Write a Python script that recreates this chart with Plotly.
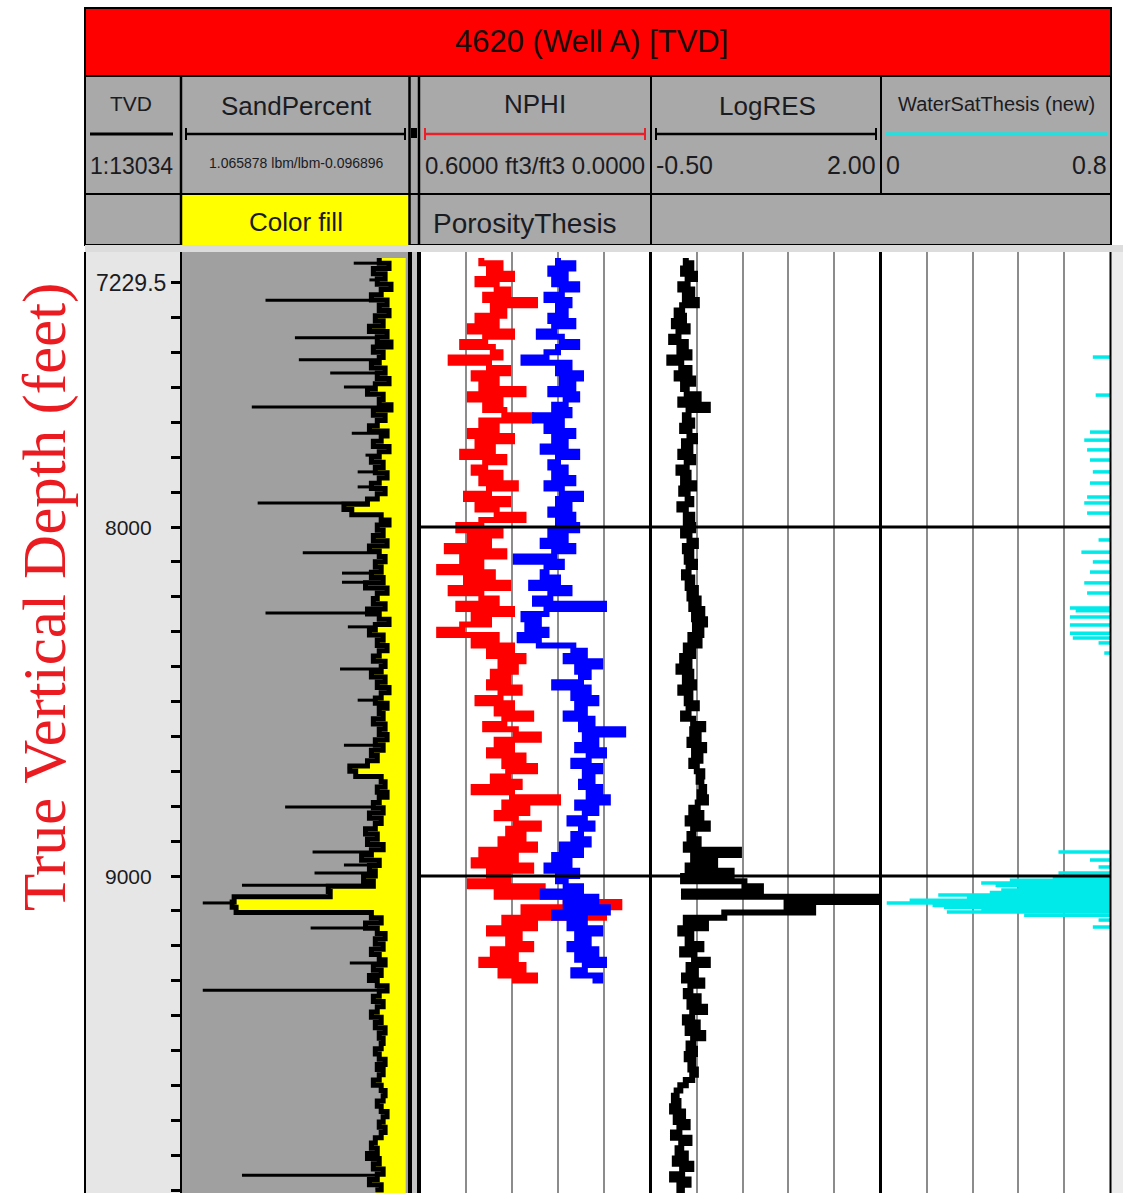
import plotly.graph_objects as go

W, H = 1123, 1193
SANS = "Liberation Sans, Arial, sans-serif"
SERIF = "Liberation Serif, Times New Roman, serif"

# ---------------- well data (15 ft block sampling from the top depth) ----------------
TOP_DEPTH = 7229.5
STEP = 15.0
DEPTH_RANGE = [9908, 7212]          # bottom, top of the depth window

SAND_PERCENT = [
    0.06, 0.01, 0.09, 0.03, 0.07, 0.00, 0.05, 0.10, 0.02, 0.06,
    0.01, 0.08, 0.04, 0.11, 0.02, 0.07, 0.00, 0.09, 0.04, 0.06,
    0.10, 0.03, 0.07, 0.01, 0.08, 0.12, 0.04, 0.06, 0.00, 0.09,
    0.03, 0.07, 0.11, 0.02, 0.05, 0.09, 0.01, 0.06, 0.10, 0.04,
    0.08, 0.02, 0.06, 0.10, 0.03, 0.07, 0.12, 0.24, 0.20, 0.05,
    0.01, 0.07, 0.04, 0.09, 0.02, 0.11, 0.06, 0.03, 0.08, 0.05,
    0.10, 0.04, 0.13, 0.02, 0.07, 0.09, 0.03, 0.12, 0.06, 0.01,
    0.08, 0.11, 0.04, 0.07, 0.02, 0.06, 0.09, 0.03, 0.05, 0.10,
    0.03, 0.07, 0.01, 0.05, 0.08, 0.02, 0.06, 0.04, 0.09, 0.03,
    0.06, 0.02, 0.08, 0.04, 0.10, 0.07, 0.12, 0.21, 0.18, 0.05,
    0.03, 0.07, 0.02, 0.06, 0.09, 0.04, 0.11, 0.05, 0.08, 0.13,
    0.07, 0.12, 0.04, 0.10, 0.15, 0.06, 0.11, 0.08, 0.14, 0.09,
    0.32, 0.31, 0.80, 0.81, 0.79, 0.10, 0.05, 0.13, 0.07, 0.03,
    0.08, 0.04, 0.10, 0.06, 0.03, 0.09, 0.05, 0.11, 0.07, 0.02,
    0.06, 0.09, 0.04, 0.07, 0.10, 0.05, 0.08, 0.03, 0.06, 0.04,
    0.05, 0.08, 0.06, 0.03, 0.07, 0.04, 0.06, 0.09, 0.05, 0.03,
    0.04, 0.07, 0.05, 0.02, 0.04, 0.06, 0.03, 0.05, 0.08, 0.10,
    0.07, 0.12, 0.06, 0.09, 0.04, 0.07, 0.11, 0.05, 0.08,
]

SAND_SPIKE_DEPTH = [7244, 7292, 7350, 7458, 7521, 7559, 7599, 7656, 7731, 7794,
                    7842, 7885, 7931, 8074, 8132, 8158, 8246, 8286, 8407, 8496,
                    8625, 8690, 8802, 8868, 8931, 8968, 8991, 9026, 9077, 9149,
                    9249, 9327, 9857]
SAND_SPIKE_VALUE = [0.19, 0.11, 0.64, 0.49, 0.47, 0.31, 0.24, 0.71, 0.20, 0.13,
                    0.17, 0.17, 0.68, 0.45, 0.25, 0.25, 0.64, 0.22, 0.26, 0.17,
                    0.24, 0.22, 0.54, 0.14, 0.40, 0.24, 0.39, 0.76, 0.96, 0.41,
                    0.21, 0.96, 0.76]

NPHI = [
    0.44, 0.39, 0.42, 0.36, 0.45, 0.40, 0.37, 0.43, 0.30, 0.41,
    0.38, 0.45, 0.40, 0.47, 0.36, 0.43, 0.49, 0.41, 0.39, 0.52,
    0.42, 0.37, 0.46, 0.40, 0.44, 0.33, 0.47, 0.39, 0.43, 0.38,
    0.31, 0.44, 0.40, 0.47, 0.36, 0.45, 0.41, 0.49, 0.38, 0.43,
    0.46, 0.39, 0.44, 0.35, 0.42, 0.48, 0.37, 0.45, 0.40, 0.33,
    0.44, 0.50, 0.39, 0.47, 0.42, 0.53, 0.38, 0.49, 0.44, 0.55,
    0.41, 0.48, 0.37, 0.52, 0.44, 0.40, 0.50, 0.36, 0.46, 0.42,
    0.49, 0.55, 0.40, 0.46, 0.36, 0.42, 0.33, 0.39, 0.35, 0.41,
    0.37, 0.42, 0.34, 0.39, 0.45, 0.36, 0.40, 0.31, 0.38, 0.43,
    0.35, 0.29, 0.40, 0.36, 0.42, 0.33, 0.38, 0.30, 0.37, 0.41,
    0.34, 0.46, 0.36, 0.24, 0.38, 0.32, 0.40, 0.35, 0.29, 0.37,
    0.33, 0.39, 0.30, 0.44, 0.35, 0.46, 0.31, 0.42, 0.37, 0.47,
    0.28, 0.40, 0.22, 0.08, 0.33, 0.12, 0.38, 0.30, 0.42, 0.34,
    0.37, 0.31, 0.41, 0.35, 0.44, 0.33, 0.39, 0.30, 0.36,
]

POROSITY_THESIS = [
    0.24, 0.20, 0.26, 0.22, 0.25, 0.19, 0.23, 0.27, 0.21, 0.24,
    0.22, 0.26, 0.20, 0.25, 0.29, 0.23, 0.19, 0.24, 0.27, 0.33,
    0.21, 0.24, 0.18, 0.23, 0.20, 0.26, 0.19, 0.22, 0.25, 0.21,
    0.30, 0.23, 0.27, 0.20, 0.25, 0.22, 0.28, 0.19, 0.24, 0.26,
    0.22, 0.25, 0.20, 0.27, 0.23, 0.18, 0.24, 0.21, 0.26, 0.20,
    0.24, 0.19, 0.26, 0.22, 0.28, 0.20, 0.25, 0.35, 0.23, 0.27,
    0.28, 0.24, 0.31, 0.21, 0.26, 0.30, 0.12, 0.27, 0.33, 0.29,
    0.32, 0.27, 0.34, 0.29, 0.20, 0.17, 0.22, 0.13, 0.19, 0.16,
    0.18, 0.25, 0.16, 0.20, 0.14, 0.19, 0.17, 0.22, 0.15, 0.18,
    0.07, 0.17, 0.14, 0.19, 0.12, 0.16, 0.20, 0.13, 0.17, 0.15,
    0.18, 0.13, 0.16, 0.11, 0.19, 0.14, 0.17, 0.21, 0.15, 0.18,
    0.20, 0.16, 0.23, 0.18, 0.25, 0.21, 0.27, 0.19, 0.24, 0.22,
    0.18, 0.28, 0.14, 0.22, 0.11, 0.25, 0.17, 0.21, 0.13, 0.19,
    0.16, 0.21, 0.14, 0.19, 0.12, 0.17, 0.20, 0.13, 0.15,
]

LOG_RES = [
    -0.12, -0.06, -0.15, -0.02, -0.10, -0.18, -0.05, -0.13, 0.00, -0.16,
    -0.22, -0.14, -0.25, -0.10, -0.20, -0.28, -0.12, -0.19, -0.08, -0.30,
    -0.17, -0.08, -0.22, -0.04, -0.15, -0.11, 0.02, -0.18, 0.12, -0.09,
    -0.13, -0.05, -0.16, -0.08, -0.02, -0.14, -0.07, -0.18, -0.04, -0.11,
    -0.20, -0.09, -0.15, -0.03, -0.17, -0.10, -0.06, -0.19, -0.12, -0.05,
    -0.12, -0.04, -0.15, -0.08, -0.01, -0.13, -0.06, -0.11, -0.02, -0.09,
    -0.14, -0.05, -0.10, -0.01, -0.08, 0.02, -0.06, 0.06, -0.03, 0.09,
    -0.02, 0.05, -0.07, 0.03, -0.12, -0.04, -0.16, -0.08, -0.20, -0.06,
    -0.13, -0.03, -0.18, -0.07, -0.11, 0.00, -0.09, -0.15, -0.04, 0.07,
    -0.05, 0.02, -0.08, 0.08, -0.03, 0.04, -0.06, 0.00, 0.06, 0.02,
    0.05, 0.08, 0.03, 0.10, 0.01, -0.06, 0.05, -0.10, 0.12, -0.04,
    -0.08, 0.02, -0.12, 0.46, -0.04, 0.20, -0.10, 0.38, -0.15, 0.52,
    0.70, -0.14, 2.00, 0.98, 1.27, 0.30, -0.12, 0.10, -0.18, -0.06,
    -0.10, 0.05, -0.16, -0.03, 0.12, -0.09, -0.01, -0.14, 0.06, -0.07,
    -0.12, 0.02, -0.08, 0.09, -0.05, -0.13, 0.01, -0.10, 0.07, -0.04,
    -0.09, -0.02, -0.11, -0.04, -0.07, -0.01, -0.05, -0.12, -0.18, -0.22,
    -0.25, -0.20, -0.27, -0.15, -0.23, -0.10, -0.19, -0.26, -0.08, -0.17,
    -0.21, -0.12, -0.24, -0.06, -0.16, -0.27, -0.09, -0.19, -0.13,
]

WATER_SAT_DEPTH = [7513, 7622, 7728, 7751, 7779, 7808, 7842, 7874, 7914, 7931,
                   7960, 8037, 8072, 8100, 8129, 8160, 8189, 8232, 8240, 8258,
                   8281, 8304, 8318, 8332, 8361, 8931, 8954, 8974, 8991, 9005,
                   9012, 9020, 9027, 9034, 9040, 9047, 9054, 9062, 9069, 9077,
                   9084, 9089, 9096, 9103, 9112, 9126, 9146]
WATER_SAT_VALUE = [0.74, 0.75, 0.73, 0.71, 0.72, 0.73, 0.74, 0.73, 0.72, 0.71,
                   0.72, 0.76, 0.70, 0.74, 0.73, 0.71, 0.72, 0.66, 0.68, 0.66,
                   0.66, 0.66, 0.67, 0.76, 0.78, 0.62, 0.73, 0.76, 0.62, 0.60,
                   0.45, 0.35, 0.40, 0.48, 0.42, 0.38, 0.20, 0.30, 0.10, 0.02,
                   0.18, 0.22, 0.35, 0.23, 0.50, 0.76, 0.74]

DEPTH_MARKERS = [8000, 9000]

SAND_SCALE = [1.065878, -0.096896]
NPHI_SCALE = [0.6, 0.0]
RES_SCALE = [-0.5, 2.0]
SW_SCALE = [0.0, 0.8]


def block_depths(values):
    return [TOP_DEPTH + STEP * i for i in range(len(values))]


def block_value(values, depth):
    i = int((depth - TOP_DEPTH) // STEP)
    return values[max(0, min(len(values) - 1, i))]


def px_x(p):
    return p / W


def px_y(p):
    return 1 - p / H


fig = go.Figure()
sand_depth = block_depths(SAND_PERCENT)

# Sand track: yellow colour fill between the curve and the right edge
sand_right = -0.075
fig.add_trace(go.Scatter(
    x=SAND_PERCENT + [sand_right, sand_right],
    y=sand_depth + [DEPTH_RANGE[0] + 20, sand_depth[0]],
    xaxis="x", yaxis="y", mode="lines",
    line=dict(width=0, shape="vh"), fill="toself", fillcolor="#ffff00",
    hoverinfo="skip", showlegend=False))
fig.add_trace(go.Scatter(
    x=SAND_PERCENT, y=sand_depth, xaxis="x", yaxis="y", mode="lines",
    line=dict(color="black", width=5, shape="vh"),
    hoverinfo="skip", showlegend=False))
sx, sy = [], []
for d, v in zip(SAND_SPIKE_DEPTH, SAND_SPIKE_VALUE):
    sx += [v, block_value(SAND_PERCENT, d), None]
    sy += [d, d, None]
fig.add_trace(go.Scatter(x=sx, y=sy, xaxis="x", yaxis="y", mode="lines",
                         line=dict(color="black", width=3),
                         hoverinfo="skip", showlegend=False))

# NPHI track
fig.add_trace(go.Scatter(
    x=NPHI, y=block_depths(NPHI), xaxis="x2", yaxis="y", mode="lines",
    line=dict(color="#ff0000", width=6, shape="vh"),
    hoverinfo="skip", showlegend=False))
fig.add_trace(go.Scatter(
    x=POROSITY_THESIS, y=block_depths(POROSITY_THESIS), xaxis="x2", yaxis="y",
    mode="lines", line=dict(color="#0000ff", width=6, shape="vh"),
    hoverinfo="skip", showlegend=False))

# LogRES track
fig.add_trace(go.Scatter(
    x=LOG_RES, y=block_depths(LOG_RES), xaxis="x3", yaxis="y", mode="lines",
    line=dict(color="black", width=6, shape="vh"),
    hoverinfo="skip", showlegend=False))

# Water saturation track: values drawn in from the right edge
wx, wy = [], []
for d, v in zip(WATER_SAT_DEPTH, WATER_SAT_VALUE):
    wx += [v, SW_SCALE[1], None]
    wy += [d, d, None]
fig.add_trace(go.Scatter(x=wx, y=wy, xaxis="x4", yaxis="y", mode="lines",
                         line=dict(color="#00eaea", width=3.5),
                         hoverinfo="skip", showlegend=False))

PLOT_TOP = 252
GRID = dict(showgrid=True, gridcolor="#8c8c8c", gridwidth=2, ticks="",
            showticklabels=False, zeroline=False, showline=False, fixedrange=True)

fig.update_layout(
    width=W, height=H, autosize=False,
    margin=dict(l=0, r=0, t=0, b=0),
    paper_bgcolor="white", plot_bgcolor="rgba(0,0,0,0)",
    showlegend=False,
    yaxis=dict(domain=[0, px_y(PLOT_TOP)], range=DEPTH_RANGE, anchor="free",
               position=px_x(181), side="left", ticks="outside", ticklen=10,
               tickwidth=3, tickcolor="black", tickmode="linear", tick0=7300,
               dtick=100, showticklabels=False, showgrid=False, zeroline=False,
               showline=False, fixedrange=True),
    xaxis=dict(domain=[px_x(182), px_x(410)], range=SAND_SCALE, anchor="y",
               showgrid=False, ticks="", showticklabels=False, zeroline=False,
               showline=False, fixedrange=True),
    xaxis2=dict(domain=[px_x(420), px_x(650)], range=NPHI_SCALE, anchor="y",
                tickvals=[0.48, 0.36, 0.24, 0.12], **GRID),
    xaxis3=dict(domain=[px_x(651), px_x(880)], range=RES_SCALE, anchor="y",
                tickvals=[0.0, 0.5, 1.0, 1.5], **GRID),
    xaxis4=dict(domain=[px_x(881), px_x(1110)], range=SW_SCALE, anchor="y",
                tickvals=[0.16, 0.32, 0.48, 0.64], **GRID),
)

shapes = []


def rect(x0, y0, x1, y1, fill, line_color=None, lw=0, layer="above"):
    shapes.append(dict(type="rect", xref="paper", yref="paper",
                       x0=px_x(x0), x1=px_x(x1), y0=px_y(y1), y1=px_y(y0),
                       fillcolor=fill, layer=layer,
                       line=dict(color=line_color or fill, width=lw)))


def seg(x0, y0, x1, y1, color="black", lw=2, layer="above"):
    shapes.append(dict(type="line", xref="paper", yref="paper",
                       x0=px_x(x0), x1=px_x(x1), y0=px_y(y0), y1=px_y(y1),
                       layer=layer, line=dict(color=color, width=lw)))


# track backgrounds
rect(85, PLOT_TOP, 181, H, "#e6e6e6", layer="below")
rect(182, PLOT_TOP, 410, H, "#a0a0a0", layer="below")
rect(1111, PLOT_TOP, W, H, "#ececec", layer="below")

# header block
rect(85, 8, 1111, 76, "#ff0000", "black", 2)
rect(85, 76, 1111, 245, "#a9a9a9", "black", 2)
rect(182, 195, 409, 245, "#ffff00")
rect(85, 245, W, PLOT_TOP, "#dcdcdc")
seg(85, 194, 1111, 194)
for x in (181, 409.5, 419):
    seg(x, 76, x, 245, lw=2.5)
seg(651, 76, 651, 245, lw=2)
seg(881, 76, 881, 194, lw=2)
rect(411, 128, 417, 138, "black")

# scale bars
seg(90, 134, 173, 134, lw=3)
for (a, b, col) in ((186, 405, "black"), (425, 645, "#e8202a"), (656, 876, "black")):
    seg(a, 134, b, 134, color=col, lw=2.5)
    seg(a, 128, a, 140, color=col, lw=2)
    seg(b, 128, b, 140, color=col, lw=2)
seg(886, 134, 1107, 134, color="#22e0e0", lw=3.5)

# separator column between sand and porosity tracks
rect(408, PLOT_TOP, 421, H, "black")
rect(412, PLOT_TOP, 417, H, "#c4c4c4")

# track borders
for x, lw in ((85, 2), (181, 2), (650.5, 3), (880.5, 3), (1110.5, 2)):
    seg(x, PLOT_TOP, x, H, lw=lw)

# depth marker lines
for d in DEPTH_MARKERS:
    shapes.append(dict(type="line", xref="paper", yref="y",
                       x0=px_x(421), x1=px_x(1110), y0=d, y1=d,
                       layer="above", line=dict(color="black", width=3)))

fig.update_layout(shapes=shapes)


def label(text, x, y, size, family=SANS, color="#1b1b22", anchor="center", yref="paper"):
    fig.add_annotation(text=text, x=px_x(x), y=(px_y(y) if yref == "paper" else y),
                       xref="paper", yref=yref, showarrow=False,
                       xanchor=anchor, yanchor="middle",
                       font=dict(family=family, size=size, color=color))


label("4620 (Well A) [TVD]", 591, 42, 31, color="#1a0d0d")
label("TVD", 131, 104, 21)
label("SandPercent", 296, 106, 26)
label("NPHI", 535, 104, 26)
label("LogRES", 767, 106, 26)
label("WaterSatThesis (new)", 996, 104, 20)
label("1:13034", 131, 166, 23)
label("1.065878 lbm/lbm-0.096896", 296, 163, 14)
label("0.6000 ft3/ft3 0.0000", 423, 165, 24, anchor="left")
label("-0.50", 654, 165, 25, anchor="left")
label("2.00", 878, 165, 25, anchor="right")
label("0", 884, 165, 25, anchor="left")
label("0.8", 1109, 165, 25, anchor="right")
label("Color fill", 296, 222, 26)
label("PorosityThesis", 525, 224, 28)

# depth labels
label("7229.5", 131, 283, 23)
for d in DEPTH_MARKERS:
    label(str(d), 128, d, 21, yref="y")

# vertical axis title
fig.add_annotation(text="True Vertical Depth (feet)", x=px_x(45), y=px_y(597),
                   xref="paper", yref="paper", showarrow=False, textangle=-90,
                   xanchor="center", yanchor="middle",
                   font=dict(family=SERIF, size=61, color="#ea1c22"))

fig.write_html("out.html")
